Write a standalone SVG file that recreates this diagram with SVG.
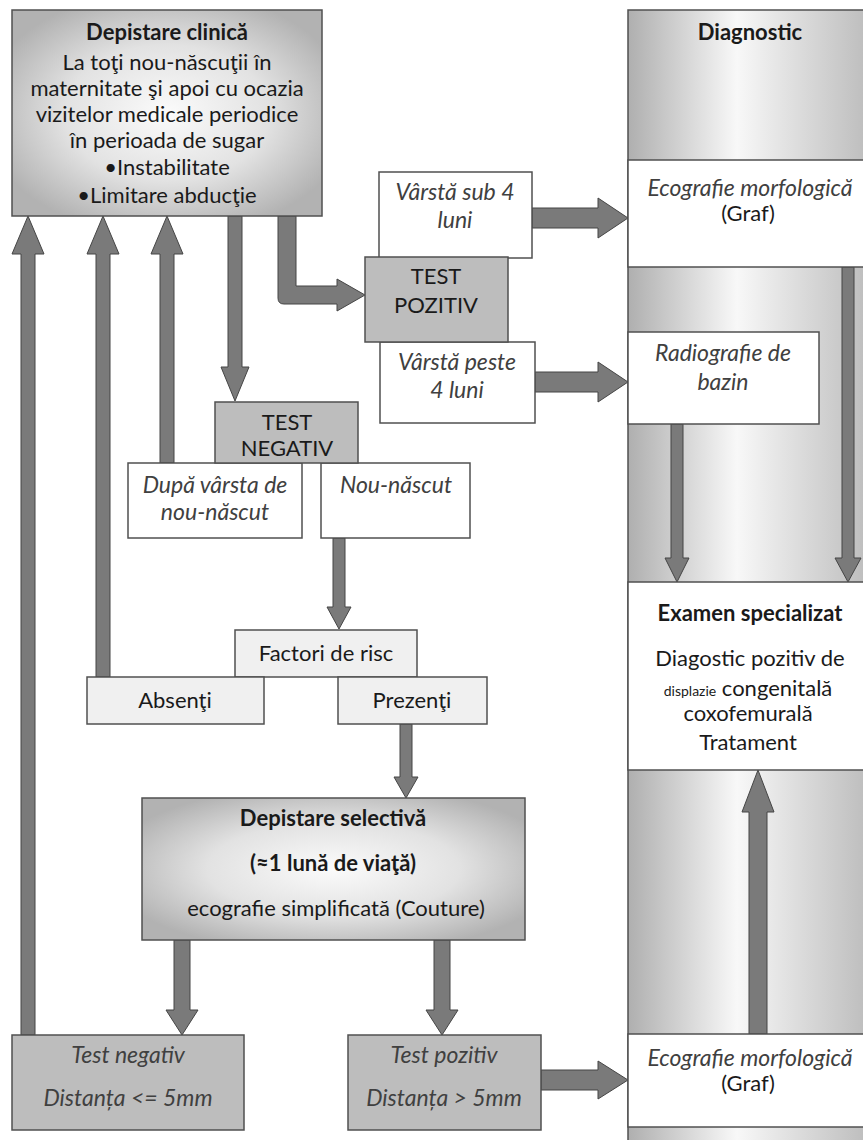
<svg xmlns="http://www.w3.org/2000/svg" width="863" height="1140" viewBox="0 0 863 1140">
<defs>
<radialGradient id="rg" cx="50%" cy="50%" r="60%">
<stop offset="0" stop-color="#fbfbfb"/>
<stop offset="0.55" stop-color="#e2e2e2"/>
<stop offset="1" stop-color="#b2b2b2"/>
</radialGradient>
<linearGradient id="lg" x1="628" y1="0" x2="870" y2="0" gradientUnits="userSpaceOnUse">
<stop offset="0" stop-color="#afafaf"/>
<stop offset="0.45" stop-color="#f8f8f8"/>
<stop offset="1" stop-color="#bcbcbc"/>
</linearGradient>
<style>
.bx{stroke:#505050;stroke-width:1.5}
.w{fill:#ffffff}
.g{fill:#bdbdbd}
.lg{fill:#f0f0f0}
.ar{fill:#7a7a7a;stroke:#454545;stroke-width:1}
text{font-family:Lato,"Liberation Sans",sans-serif;font-size:22px;fill:#1a1a1a;text-anchor:middle}
.b{font-weight:bold}
.i{font-style:italic;fill:#404040;font-size:23px}
</style>
</defs>
<rect width="863" height="1140" fill="#ffffff"/>
<g id="diagnostic">
<rect x="628" y="10" width="250" height="1140" fill="url(#lg)" class="bx"/>
<text x="750" y="40" class="b">Diagnostic</text>
</g>
<g id="connectors">
<path class="ar" d="M21,1035 L21,254 L12,254 L28,216 L44,254 L35,254 L35,1035 Z"/>
<path class="ar" d="M96,677 L96,254 L87,254 L103,216 L119,254 L110,254 L110,677 Z"/>
<path class="ar" d="M160,463 L160,254 L151,254 L167,216 L183,254 L174,254 L174,463 Z"/>
<path class="ar" d="M228,216 L228,367 L221,367 L235,401 L249,367 L242,367 L242,216 Z"/>
<path class="ar" d="M278,216 L278,298 Q278,304 284,304 L337,304 L337,311 L365,295 L337,279 L337,286 L296,286 L296,216 Z"/>
<path class="ar" d="M532,208 L598,208 L598,198 L628,218 L598,238 L598,228 L532,228 Z"/>
<path class="ar" d="M535,372 L598,372 L598,362 L628,382 L598,402 L598,392 L535,392 Z"/>
<path class="ar" d="M541,1070 L598,1070 L598,1061 L628,1080 L598,1099 L598,1090 L541,1090 Z"/>
<path class="ar" d="M671,424 L671,558 L665,558 L677,582 L689,558 L683,558 L683,424 Z"/>
<path class="ar" d="M842,267 L842,558 L835,558 L848,582 L861,558 L854,558 L854,267 Z"/>
<path class="ar" d="M749,1034 L749,812 L742,812 L758,770 L774,812 L767,812 L767,1034 Z"/>
<path class="ar" d="M333,538 L333,607 L327,607 L339,629 L351,607 L345,607 L345,538 Z"/>
<path class="ar" d="M400,724 L400,777 L394,777 L406,798 L418,777 L412,777 L412,724 Z"/>
<path class="ar" d="M174,940 L174,1010 L166,1010 L182,1035 L198,1010 L190,1010 L190,940 Z"/>
<path class="ar" d="M434,940 L434,1010 L426,1010 L442,1035 L458,1010 L450,1010 L450,940 Z"/>
</g>
<g id="depistare-clinica">
<rect x="12" y="10" width="310" height="206" fill="url(#rg)" class="bx"/>
<text x="167" y="40" class="b">Depistare clinică</text>
<text x="167" y="70">La toţi nou-născuţii în</text>
<text x="167" y="96">maternitate şi apoi cu ocazia</text>
<text x="167" y="122">vizitelor medicale periodice</text>
<text x="167" y="148">în perioada de sugar</text>
<text x="167" y="175">•Instabilitate</text>
<text x="167" y="203">•Limitare abducţie</text>
</g>
<g id="varsta-sub">
<rect x="379" y="172" width="153" height="86" class="bx w"/>
<text x="455" y="200" class="i">Vârstă sub 4</text>
<text x="455" y="228" class="i">luni</text>
</g>
<g id="varsta-peste">
<rect x="380" y="342" width="155" height="81" class="bx w"/>
<text x="457" y="370" class="i">Vârstă peste</text>
<text x="457" y="398" class="i">4 luni</text>
</g>
<g id="test-pozitiv">
<rect x="365" y="257" width="143" height="85" class="bx g"/>
<text x="436" y="284">TEST</text>
<text x="436" y="313">POZITIV</text>
</g>
<g id="dupa-varsta">
<rect x="128" y="463" width="174" height="75" class="bx w"/>
<text x="215" y="493" class="i">După vârsta de</text>
<text x="215" y="520" class="i">nou-născut</text>
</g>
<g id="nou-nascut">
<rect x="321" y="463" width="149" height="75" class="bx w"/>
<text x="396" y="493" class="i">Nou-născut</text>
</g>
<g id="test-negativ">
<rect x="215" y="402" width="143" height="61" class="bx g"/>
<text x="287" y="430">TEST</text>
<text x="287" y="456">NEGATIV</text>
</g>
<g id="factori">
<rect x="235" y="630" width="182" height="47" class="bx lg"/>
<text x="326" y="661">Factori de risc</text>
</g>
<g id="absenti">
<rect x="87" y="677" width="177" height="47" class="bx lg"/>
<text x="175" y="708">Absenţi</text>
</g>
<g id="prezenti">
<rect x="338" y="677" width="149" height="47" class="bx lg"/>
<text x="412" y="708">Prezenţi</text>
</g>
<g id="depistare-selectiva">
<rect x="142" y="798" width="383" height="142" fill="url(#rg)" class="bx"/>
<text x="333" y="826" class="b">Depistare selectivă</text>
<text x="333" y="871" class="b">(≈1 lună de viaţă)</text>
<text x="336" y="916">ecografie simplificată (Couture)</text>
</g>
<g id="test-neg-final">
<rect x="12" y="1035" width="232" height="95" class="bx g"/>
<text x="128" y="1063" class="i">Test negativ</text>
<text x="128" y="1106" class="i">Distanța &lt;= 5mm</text>
</g>
<g id="test-poz-final">
<rect x="348" y="1035" width="193" height="95" class="bx g"/>
<text x="444" y="1063" class="i">Test pozitiv</text>
<text x="444" y="1106" class="i">Distanța &gt; 5mm</text>
</g>
<g id="ecografie-1">
<rect x="628" y="160" width="250" height="107" class="bx w"/>
<text x="750" y="196" class="i">Ecografie morfologică</text>
<text x="748" y="221">(Graf)</text>
</g>
<g id="radiografie">
<rect x="628" y="332" width="191" height="92" class="bx w"/>
<text x="723" y="361" class="i">Radiografie de</text>
<text x="723" y="390" class="i">bazin</text>
</g>
<g id="examen">
<rect x="628" y="582" width="250" height="188" class="bx w"/>
<text x="750" y="621" class="b">Examen specializat</text>
<text x="750" y="666">Diagostic pozitiv de</text>
<text x="748" y="696"><tspan font-size="14">displazie</tspan> congenitală</text>
<text x="748" y="721">coxofemurală</text>
<text x="748" y="750">Tratament</text>
</g>
<g id="ecografie-2">
<rect x="628" y="1034" width="250" height="93" class="bx w"/>
<text x="750" y="1066" class="i">Ecografie morfologică</text>
<text x="748" y="1091">(Graf)</text>
</g>
</svg>
